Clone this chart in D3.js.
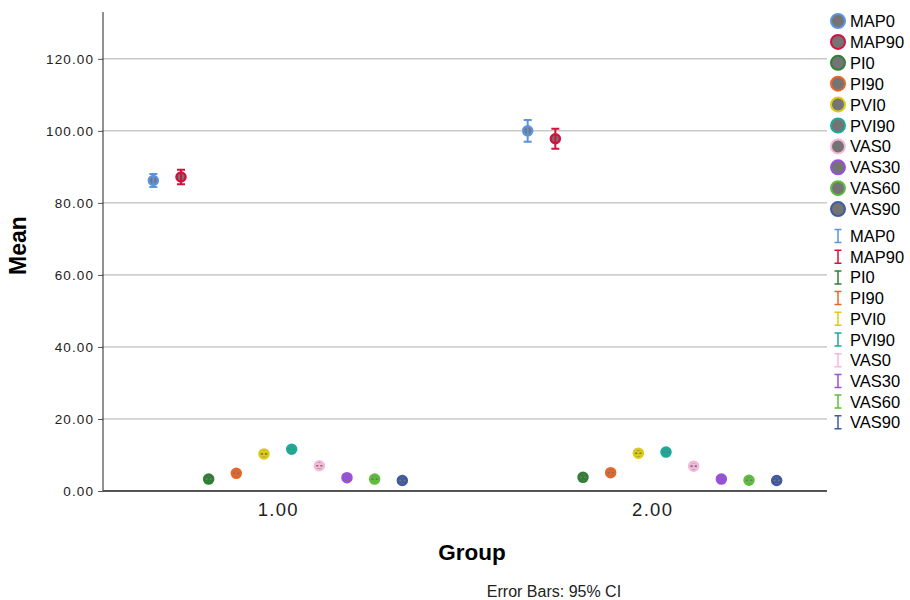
<!DOCTYPE html>
<html>
<head>
<meta charset="utf-8">
<script src="https://cdn.jsdelivr.net/npm/d3@7"></script>
<style>
  body { margin: 0; background: #fff; }
  text { font-family: Arial, "Liberation Sans", sans-serif; }
</style>
</head>
<body>
<div id="chart"></div>
<script>
const groups = ["1.00", "2.00"];
const seriesNames = ["MAP0", "MAP90", "PI0", "PI90", "PVI0", "PVI90", "VAS0", "VAS30", "VAS60", "VAS90"];
const seriesColors = ["#5b93de", "#d3123f", "#2f7f34", "#e9652c", "#dccb12", "#1aab9a", "#f4b9d9", "#9b4fe0", "#5fbf3c", "#3f5aa0"];
// means per series, [group 1, group 2]
const meanG1 = [86.2, 87.2, 3.3, 4.9, 10.3, 11.6, 7.0, 3.7, 3.3, 2.9];
const meanG2 = [100.0, 97.8, 3.8, 5.1, 10.5, 10.8, 6.9, 3.3, 3.0, 2.9];
// 95% CI half widths
const ciG1 = [1.8, 2.0, 0.5, 0.5, 0.5, 0.5, 0.5, 0.4, 0.5, 0.5];
const ciG2 = [3.0, 2.8, 0.5, 0.5, 0.5, 0.5, 0.5, 0.4, 0.5, 0.5];
const yTicks = [0, 20, 40, 60, 80, 100, 120];

const width = 910, height = 600;
const plotLeft = 103, plotRight = 827, plotTop = 12, plotBottom = 491;

const svg = d3.select("#chart").append("svg")
    .attr("width", width)
    .attr("height", height);

const y = d3.scaleLinear().domain([0, 133]).range([plotBottom, plotTop]);
const x = d3.scalePoint().domain(groups).range([plotLeft, plotRight]).padding(0.467);
const off = d3.scalePoint().domain(seriesNames).range([-124.5, 124.5]);

// gridlines
svg.append("g")
    .selectAll("line")
    .data(yTicks.filter(d => d > 0))
    .join("line")
    .attr("x1", plotLeft).attr("x2", plotRight)
    .attr("y1", d => y(d)).attr("y2", d => y(d))
    .style("stroke", "#adadad")
    .style("stroke-width", 1);

// y axis
const yAxis = svg.append("g")
    .attr("transform", `translate(${plotLeft},0)`)
    .call(d3.axisLeft(y).tickValues(yTicks).tickFormat(d3.format(".2f")).tickSize(5).tickSizeOuter(0));
yAxis.select(".domain").remove();
yAxis.selectAll(".tick line").style("stroke", "#555");
yAxis.selectAll(".tick text")
    .attr("x", -9)
    .style("font-size", "13.5px")
    .style("letter-spacing", "1.1px")
    .style("fill", "#222");
svg.append("line")
    .attr("x1", plotLeft).attr("x2", plotLeft)
    .attr("y1", plotTop).attr("y2", plotBottom)
    .style("stroke", "#222").style("stroke-width", 1);

// x axis
const xAxis = svg.append("g")
    .attr("transform", `translate(0,${plotBottom})`)
    .call(d3.axisBottom(x).tickSize(0));
xAxis.select(".domain").remove();
xAxis.selectAll(".tick text")
    .attr("y", 12)
    .style("font-size", "18.5px")
    .style("letter-spacing", "1.3px")
    .style("fill", "#222");
svg.append("line")
    .attr("x1", plotLeft).attr("x2", plotRight)
    .attr("y1", plotBottom).attr("y2", plotBottom)
    .style("stroke", "#555").style("stroke-width", 2);

// titles
svg.append("text")
    .attr("transform", `translate(26,${(plotTop + plotBottom) / 2 - 6}) rotate(-90)`)
    .attr("text-anchor", "middle")
    .style("font-size", "23px").style("font-weight", "bold")
    .text("Mean");
svg.append("text")
    .attr("x", 472).attr("y", 560)
    .attr("text-anchor", "middle")
    .style("font-size", "22.5px").style("font-weight", "bold")
    .text("Group");
svg.append("text")
    .attr("x", 554).attr("y", 597)
    .attr("text-anchor", "middle")
    .style("font-size", "16px").style("fill", "#222")
    .text("Error Bars: 95% CI");

// points
const rows = [];
seriesNames.forEach((s, i) => {
    rows.push({ group: groups[0], s, i, mean: meanG1[i], ci: ciG1[i] });
    rows.push({ group: groups[1], s, i, mean: meanG2[i], ci: ciG2[i] });
});

const pts = svg.append("g").selectAll("g")
    .data(rows)
    .join("g")
    .attr("transform", d => `translate(${x(d.group) + off(d.s)},0)`);

pts.append("circle")
    .attr("cy", d => y(d.mean))
    .attr("r", 4.5)
    .style("fill", "#747474")
    .style("stroke", d => seriesColors[d.i])
    .style("stroke-width", 2.5);

pts.append("path")
    .attr("d", d => {
        const a = y(d.mean + d.ci), b = y(d.mean - d.ci);
        return `M-4,${a}H4M0,${a}V${b}M-4,${b}H4`;
    })
    .style("fill", "none")
    .style("stroke", d => seriesColors[d.i])
    .style("stroke-width", 2);

// legend: markers
const legendX = 838;
const leg1 = svg.append("g").selectAll("g")
    .data(seriesNames)
    .join("g")
    .attr("transform", (d, i) => `translate(${legendX},${21 + i * 20.9})`);
leg1.append("circle")
    .attr("r", 7)
    .style("fill", "#747474")
    .style("stroke", (d, i) => seriesColors[i])
    .style("stroke-width", 2);
leg1.append("text")
    .attr("x", 12).attr("y", 6)
    .style("font-size", "16.5px")
    .text(d => d);

// legend: error bars
const leg2 = svg.append("g").selectAll("g")
    .data(seriesNames)
    .join("g")
    .attr("transform", (d, i) => `translate(${legendX},${236 + i * 20.7})`);
leg2.append("path")
    .attr("d", "M-3.5,-6.5H3.5M0,-6.5V6.5M-3.5,6.5H3.5")
    .style("fill", "none")
    .style("stroke", (d, i) => seriesColors[i])
    .style("stroke-width", 1.5);
leg2.append("text")
    .attr("x", 12).attr("y", 6)
    .style("font-size", "16.5px")
    .text(d => d);
</script>
</body>
</html>
